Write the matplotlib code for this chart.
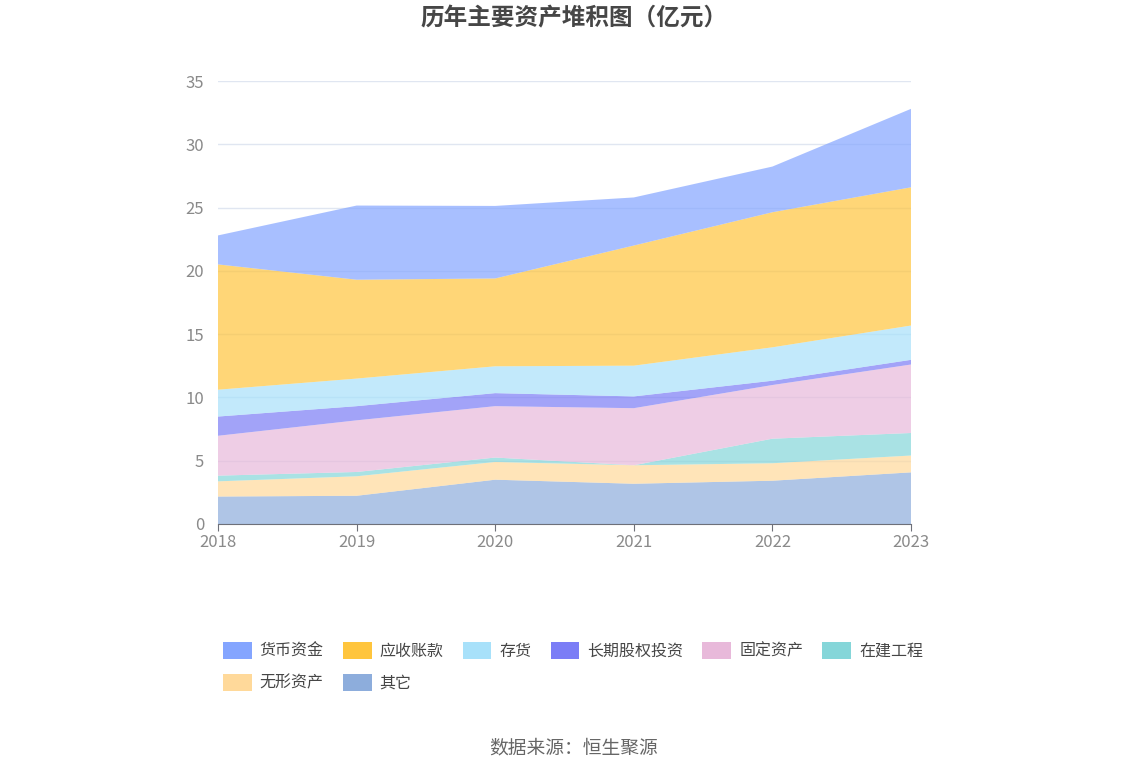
import matplotlib
matplotlib.use("Agg")
import matplotlib.pyplot as plt
from matplotlib.patches import Patch

plt.rcParams['font.family'] = ['Noto Sans CJK SC', 'DejaVu Sans']

years = [2018, 2019, 2020, 2021, 2022, 2023]

# 单位：亿元
cash = [2.29, 5.86, 5.73, 3.80, 3.61, 6.20]            # 货币资金
receivables = [9.90, 7.81, 6.94, 9.49, 10.67, 10.92]  # 应收账款
inventory = [2.12, 2.18, 2.12, 2.43, 2.64, 2.71]      # 存货
lt_equity = [1.52, 1.12, 1.03, 0.93, 0.34, 0.37]      # 长期股权投资
fixed_assets = [3.15, 4.08, 4.06, 4.51, 4.24, 5.41]   # 固定资产
construction = [0.45, 0.34, 0.35, 0.00, 1.94, 1.78]   # 在建工程
intangible = [1.20, 1.54, 1.40, 1.46, 1.38, 1.33]     # 无形资产
other = [2.17, 2.23, 3.50, 3.18, 3.42, 4.08]          # 其它

names = ['货币资金', '应收账款', '存货', '长期股权投资', '固定资产', '在建工程', '无形资产', '其它']
colors = ['#84A5FF', '#FFC53D', '#A8E1FA', '#7B7DF6', '#E8B9DA', '#85D6D9', '#FFD99A', '#8DADDC']
series = [cash, receivables, inventory, lt_equity, fixed_assets, construction, intangible, other]

fig = plt.figure(figsize=(11.48, 7.76), dpi=100)
ax = fig.add_axes([218 / 1148, 1 - 524 / 776, (911 - 218) / 1148, (524 - 81) / 776])

# stack from the bottom (其它) up to 货币资金
ax.stackplot(years, series[::-1], colors=colors[::-1], alpha=0.7, linewidth=0)

ax.set_xlim(2018, 2023)
ax.set_ylim(0, 35)
ax.set_xticks(years)
ax.set_yticks(range(0, 36, 5))
ax.grid(axis='y', color='#E0E6F1', linewidth=1)
ax.set_axisbelow(True)
for s in ['top', 'right', 'left']:
    ax.spines[s].set_visible(False)
ax.spines['bottom'].set_color('#6E7079')
ax.tick_params(axis='x', colors='#6E7079', labelcolor='#8A8A8A', length=5, labelsize=12, pad=2)
ax.tick_params(axis='y', length=0, labelcolor='#8A8A8A', labelsize=12, pad=10)

fig.text(0.5, 1 - 18 / 776, '历年主要资产堆积图（亿元）', ha='center', va='center',
         fontsize=17, fontweight='bold', color='#464646')

# legend fills column by column, so reorder to get row-wise layout
order = [0, 6, 1, 7, 2, 3, 4, 5]
handles = [Patch(facecolor=colors[i], edgecolor='none') for i in order]
labels = [names[i] for i in order]
fig.legend(handles, labels, loc='center', bbox_to_anchor=(573 / 1148, 1 - 667 / 776), ncol=6,
           frameon=False, fontsize=11.5, handlelength=1.8, handleheight=1.2,
           handletextpad=0.5, columnspacing=1.2, labelspacing=0.9, labelcolor='#464646')

fig.text(0.5, 1 - 748 / 776, '数据来源：恒生聚源', ha='center', va='center',
         fontsize=13.5, color='#666666')

fig.savefig('out.png', dpi=100)
